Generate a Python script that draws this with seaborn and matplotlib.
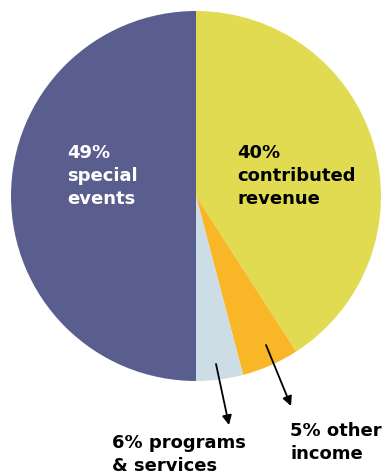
import matplotlib
matplotlib.use("Agg")
import matplotlib.pyplot as plt
import seaborn as sns

sns.set_theme(style="white")
plt.rcParams['font.family'] = ['DejaVu Sans']

# Data
categories = ["contributed revenue", "other income", "programs & services", "special events"]
labels = ["40%\ncontributed\nrevenue", "5% other\nincome", "6% programs\n& services", "49%\nspecial\nevents"]
sizes = [40.9, 5.0, 4.1, 50.0]  # wedge sizes as drawn
colors = ["#e0db50", "#f9b626", "#cddde6", "#5a5e8f"]

fig = plt.figure(figsize=(3.83, 4.72), dpi=100)
ax = fig.add_axes([11/383, (472-381)/472, 370/383, 370/472])
ax.pie(sizes, colors=colors, startangle=90, counterclock=False,
       wedgeprops=dict(linewidth=0), radius=1)
ax.set_xlim(-1, 1)
ax.set_ylim(-1, 1)
ax.set_aspect('equal')
ax.axis('off')

def d(px, py):
    return ((px - 196) / 185, (196 - py) / 185)

fs = 13
kw = dict(fontsize=fs, fontweight="bold", ha="left", va="top",
          linespacing=1.34, clip_on=False)
ax.text(*d(67, 144), labels[3], color="white", **kw)
ax.text(*d(237, 144), labels[0], color="black", **kw)
ax.text(*d(112, 434), labels[2], color="black", **kw)
ax.text(*d(290, 422), labels[1], color="black", **kw)

arrow = dict(arrowstyle="-|>", color="black", lw=1.3, mutation_scale=14,
             shrinkA=0, shrinkB=0)
ax.annotate("", xy=d(229, 425), xytext=d(216, 364), arrowprops=arrow,
            annotation_clip=False)
ax.annotate("", xy=d(291, 406), xytext=d(266, 345), arrowprops=arrow,
            annotation_clip=False)

fig.savefig("out.png", dpi=100)
